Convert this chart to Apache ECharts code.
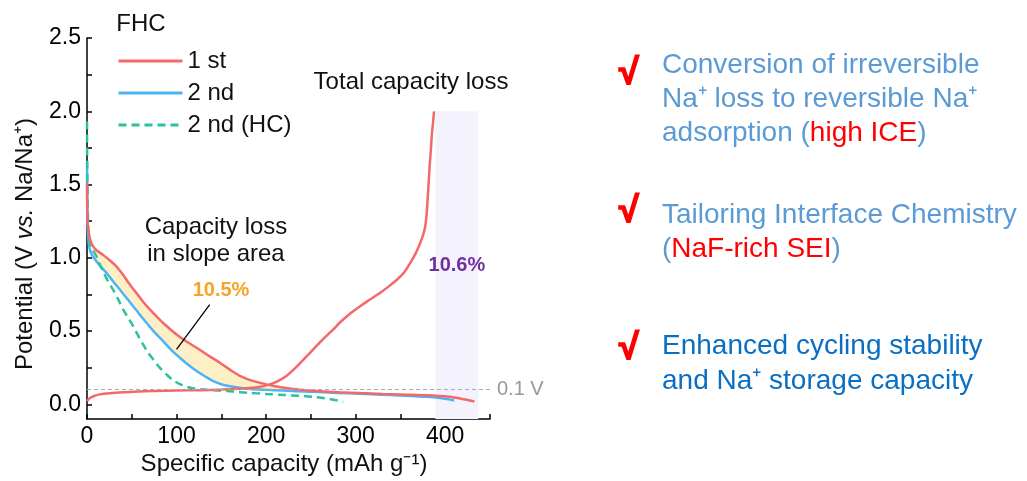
<!DOCTYPE html>
<html>
<head>
<meta charset="utf-8">
<script src="https://cdn.jsdelivr.net/npm/echarts@6/dist/echarts.min.js"></script>
<style>
  html, body { margin: 0; padding: 0; background: #fff; }
  #chart { width: 1027px; height: 481px; }
</style>
</head>
<body>
<div id="chart"></div>
<script>
const FONT = '"Liberation Sans", Arial, Helvetica, sans-serif';

// Galvanostatic profiles, points are [specific capacity (mAh/g), potential (V)]
const firstDischarge = [
  [0, 1.51], [0.3, 1.32], [0.8, 1.23], [2, 1.17], [4, 1.115], [6.7, 1.08], [11, 1.05],
  [17.9, 1.02], [27, 0.975], [33, 0.94], [40, 0.886], [47, 0.825], [55, 0.761], [64, 0.69],
  [73.8, 0.625], [86, 0.55], [100, 0.477], [112, 0.425], [122.4, 0.386], [135, 0.335],
  [148.4, 0.284], [160, 0.235], [170.8, 0.195], [185, 0.16], [202.5, 0.133], [220, 0.113],
  [238, 0.1], [260, 0.09], [282, 0.083], [305, 0.077], [330, 0.071], [350, 0.067],
  [386, 0.06], [410, 0.047], [432.6, 0.02]
];
const firstCharge = [
  [0, 0.023], [3, 0.042], [8, 0.057], [14.2, 0.068], [25, 0.076], [47.8, 0.085], [75, 0.091],
  [100, 0.095], [126, 0.097], [150, 0.101], [175, 0.108], [192, 0.118], [202.5, 0.133],
  [212, 0.155], [223, 0.195], [235, 0.262], [249, 0.352], [262, 0.435], [275, 0.511],
  [282.7, 0.56], [295, 0.625], [305, 0.67], [316, 0.715], [327, 0.76], [337, 0.805],
  [346, 0.85], [354, 0.9], [361, 0.966], [367, 1.03], [372, 1.1], [375.5, 1.16],
  [377.7, 1.215], [379.3, 1.3], [380.3, 1.397], [381.5, 1.51], [382.6, 1.624], [384, 1.74],
  [385.2, 1.85], [386.5, 1.93], [387.5, 2.0]
];
const secondDischarge = [
  [0, 1.65], [0.3, 1.4], [0.8, 1.2], [1.5, 1.13], [3, 1.06], [6, 1.015], [10.5, 0.977],
  [16, 0.935], [21.7, 0.898], [29, 0.84], [36.6, 0.784], [44, 0.727], [51.5, 0.67],
  [59, 0.612], [66.4, 0.557], [75, 0.495], [85, 0.432], [94, 0.372], [103.7, 0.318],
  [113, 0.27], [122.4, 0.227], [132, 0.19], [141, 0.159], [150, 0.137], [160, 0.123],
  [170, 0.113], [182, 0.105], [200, 0.099], [219, 0.094], [250, 0.086], [280, 0.078],
  [305, 0.072], [330, 0.066], [350, 0.061], [380, 0.051], [400, 0.038], [410, 0.026]
];
const secondDischargeHC = [
  [0, 1.93], [0.3, 1.6], [0.8, 1.35], [1.5, 1.2], [3, 1.113], [6, 1.06], [10.5, 1.011],
  [14, 0.96], [17.9, 0.909], [23, 0.845], [29, 0.784], [35, 0.715], [40.3, 0.648], [46, 0.59],
  [51.5, 0.534], [57, 0.47], [62.6, 0.409], [68, 0.355], [73.8, 0.307], [81, 0.252],
  [88.8, 0.204], [96, 0.165], [103.7, 0.138], [112, 0.119], [122.4, 0.105], [137, 0.098],
  [148, 0.094], [163, 0.087], [180, 0.079], [200, 0.071], [220, 0.064], [238, 0.058],
  [255, 0.049], [270, 0.037], [283, 0.022], [286, 0.017]
];

// Leader from the "10.5%" label to the shaded slope region
const leaderLine = [[137, 0.68], [100, 0.375]];

const seriesNames = ['1 st', '2 nd', '2 nd (HC)'];
const seriesColors = ['#f4686a', '#4cb3f4', '#2bc2a0'];

const xTicks = [0, 50, 100, 150, 200, 250, 300, 350, 400, 450];
const xLabels = [0, 100, 200, 300, 400];
const yTicks = [0, 0.25, 0.5, 0.75, 1, 1.25, 1.5, 1.75, 2, 2.25, 2.5];
const yLabels = [0, 0.5, 1, 1.5, 2, 2.5];

const cutoffPotential = 0.1;
const totalLossWindow = [389, 437];   // capacity range of the total-loss band
const totalLossTop = 2.0;
const slopeLossText = '10.5%';
const totalLossText = '10.6%';
const slopeFillLimit = 220;           // capacity where the two discharge curves merge

const chart = echarts.init(document.getElementById('chart'), null, { renderer: 'canvas' });

const axisColor = '#000';
const lineW = 2.5;

function bulletText(y, lines) {
  return {
    type: 'text',
    x: 662,
    y: y,
    silent: true,
    style: {
      text: lines.join('\n'),
      fontFamily: FONT,
      fontSize: 28,
      lineHeight: 34.2,
      align: 'left',
      verticalAlign: 'top',
      fill: '#5b9bd5',
      rich: {
        b: { fill: '#5b9bd5', fontSize: 28, fontFamily: FONT, lineHeight: 34.2 },
        d: { fill: '#0a6fc2', fontSize: 28, fontFamily: FONT, lineHeight: 34.2 },
        r: { fill: '#ff0000', fontSize: 28, fontFamily: FONT, lineHeight: 34.2 }
      }
    }
  };
}

function checkMark(y) {
  return {
    type: 'text',
    x: 629,
    y: y,
    silent: true,
    style: {
      text: '√',
      fontFamily: FONT,
      fontSize: 36,
      fontWeight: 'bold',
      fill: '#ff0000',
      stroke: '#ff0000',
      lineWidth: 1.6,
      align: 'center',
      verticalAlign: 'middle'
    }
  };
}

function plainText(x, y, text, extra) {
  return {
    type: 'text',
    x: x,
    y: y,
    silent: true,
    style: Object.assign({
      text: text,
      fontFamily: FONT,
      fontSize: 24,
      fill: '#111',
      align: 'center',
      verticalAlign: 'middle'
    }, extra || {})
  };
}

const option = {
  animation: false,
  backgroundColor: '#fff',
  grid: {
    left: 87, top: 38, width: 403, height: 381,
    containLabel: false, outerBoundsMode: 'none'
  },
  xAxis: {
    type: 'value',
    min: 0, max: 450,
    axisLine: { onZero: false, lineStyle: { color: axisColor, width: 1.5 } },
    axisTick: { inside: true, length: 5, customValues: xTicks, lineStyle: { color: axisColor, width: 1.5 } },
    axisLabel: { customValues: xLabels, fontSize: 23, color: '#000', margin: 6, fontFamily: FONT },
    splitLine: { show: false }
  },
  yAxis: {
    type: 'value',
    min: -0.1, max: 2.5,
    axisLine: { onZero: false, lineStyle: { color: axisColor, width: 1.5 } },
    axisTick: { inside: true, length: 5, customValues: yTicks, lineStyle: { color: axisColor, width: 1.5 } },
    axisLabel: {
      customValues: yLabels, fontSize: 23, color: '#000', margin: 6, fontFamily: FONT,
      formatter: v => Number(v).toFixed(1)
    },
    splitLine: { show: false }
  },
  legend: {
    data: seriesNames,
    orient: 'vertical',
    left: 112, top: 44,
    itemWidth: 64, itemHeight: 14, itemGap: 8,
    itemStyle: { opacity: 0 },
    lineStyle: { width: 3 },
    textStyle: { fontSize: 24, color: '#111', fontFamily: FONT },
    selectedMode: false
  },
  series: [
    {
      type: 'custom',
      name: 'slope fill',
      coordinateSystem: 'cartesian2d',
      silent: true,
      z: 1,
      data: [[0, 0]],
      renderItem: function (params, api) {
        const upper = firstDischarge
          .filter(p => p[0] <= slopeFillLimit && p[1] <= 1.25)
          .map(p => api.coord(p));
        const lower = secondDischarge
          .filter(p => p[0] <= slopeFillLimit && p[1] <= 1.25)
          .slice().reverse()
          .map(p => api.coord(p));
        return {
          type: 'polygon',
          shape: { points: upper.concat(lower), smooth: 0.3 },
          style: { fill: '#fdefc6' }
        };
      }
    },
    {
      type: 'line',
      name: seriesNames[0],
      data: firstDischarge,
      smooth: 0.3,
      symbol: 'none',
      z: 4,
      lineStyle: { color: seriesColors[0], width: lineW },
      itemStyle: { color: seriesColors[0] },
      markArea: {
        silent: true,
        itemStyle: { color: '#f4f2fd' },
        label: {
          show: true, position: 'inside', formatter: totalLossText,
          color: '#7030a0', fontWeight: 'bold', fontSize: 20, fontFamily: FONT
        },
        data: [[
          { xAxis: totalLossWindow[0], yAxis: -0.1 },
          { xAxis: totalLossWindow[1], yAxis: totalLossTop }
        ]]
      },
      markLine: {
        silent: true,
        symbol: ['none', 'none'],
        lineStyle: { color: '#aaaaaa', type: [4, 3], width: 1 },
        label: {
          show: true, position: 'end', formatter: '0.1 V', distance: 7,
          color: '#999', fontSize: 20, fontFamily: FONT
        },
        data: [{ yAxis: cutoffPotential }]
      }
    },
    {
      type: 'line',
      name: seriesNames[0],
      data: firstCharge,
      smooth: 0.3,
      symbol: 'none',
      z: 4,
      lineStyle: { color: seriesColors[0], width: lineW },
      itemStyle: { color: seriesColors[0] }
    },
    {
      type: 'line',
      name: seriesNames[1],
      data: secondDischarge,
      smooth: 0.3,
      symbol: 'none',
      z: 3,
      lineStyle: { color: seriesColors[1], width: lineW },
      itemStyle: { color: seriesColors[1] }
    },
    {
      type: 'line',
      name: seriesNames[2],
      data: secondDischargeHC,
      smooth: 0.3,
      symbol: 'none',
      z: 3,
      lineStyle: { color: seriesColors[2], width: lineW, type: [8, 5] },
      itemStyle: { color: seriesColors[2] }
    },
    {
      type: 'line',
      name: 'leader',
      data: leaderLine,
      symbol: 'none',
      silent: true,
      z: 5,
      lineStyle: { color: '#000', width: 1.3 }
    }
  ],
  graphic: [
    // axis titles
    {
      type: 'text',
      x: 25, y: 244,
      rotation: Math.PI / 2,
      silent: true,
      style: {
        text: '{n|Potential (V }{i|vs.}{n| Na/Na⁺)}',
        align: 'center', verticalAlign: 'middle',
        rich: {
          n: { fontFamily: FONT, fontSize: 24, fill: '#111' },
          i: { fontFamily: FONT, fontSize: 24, fill: '#111', fontStyle: 'italic' }
        }
      }
    },
    plainText(284, 464, 'Specific capacity (mAh g⁻¹)'),
    // annotations inside the plot
    plainText(141, 24, 'FHC'),
    plainText(411, 82, 'Total capacity loss'),
    plainText(216, 241, 'Capacity loss\nin slope area', { lineHeight: 27.5 }),
    plainText(221, 290, slopeLossText, { fill: '#f5a425', fontWeight: 'bold', fontSize: 20 }),
    // key points on the right
    checkMark(74),
    bulletText(47.9, [
      '{b|Conversion of irreversible}',
      '{b|Na⁺ loss to reversible Na⁺}',
      '{b|adsorption (}{r|high ICE}{b|)}'
    ]),
    checkMark(212),
    bulletText(197.9, [
      '{b|Tailoring Interface Chemistry}',
      '{b|(}{r|NaF-rich SEI}{b|)}'
    ]),
    checkMark(349),
    bulletText(329.6, [
      '{d|Enhanced cycling stability}',
      '{d|and Na⁺ storage capacity}'
    ])
  ]
};

chart.setOption(option);
</script>
</body>
</html>
